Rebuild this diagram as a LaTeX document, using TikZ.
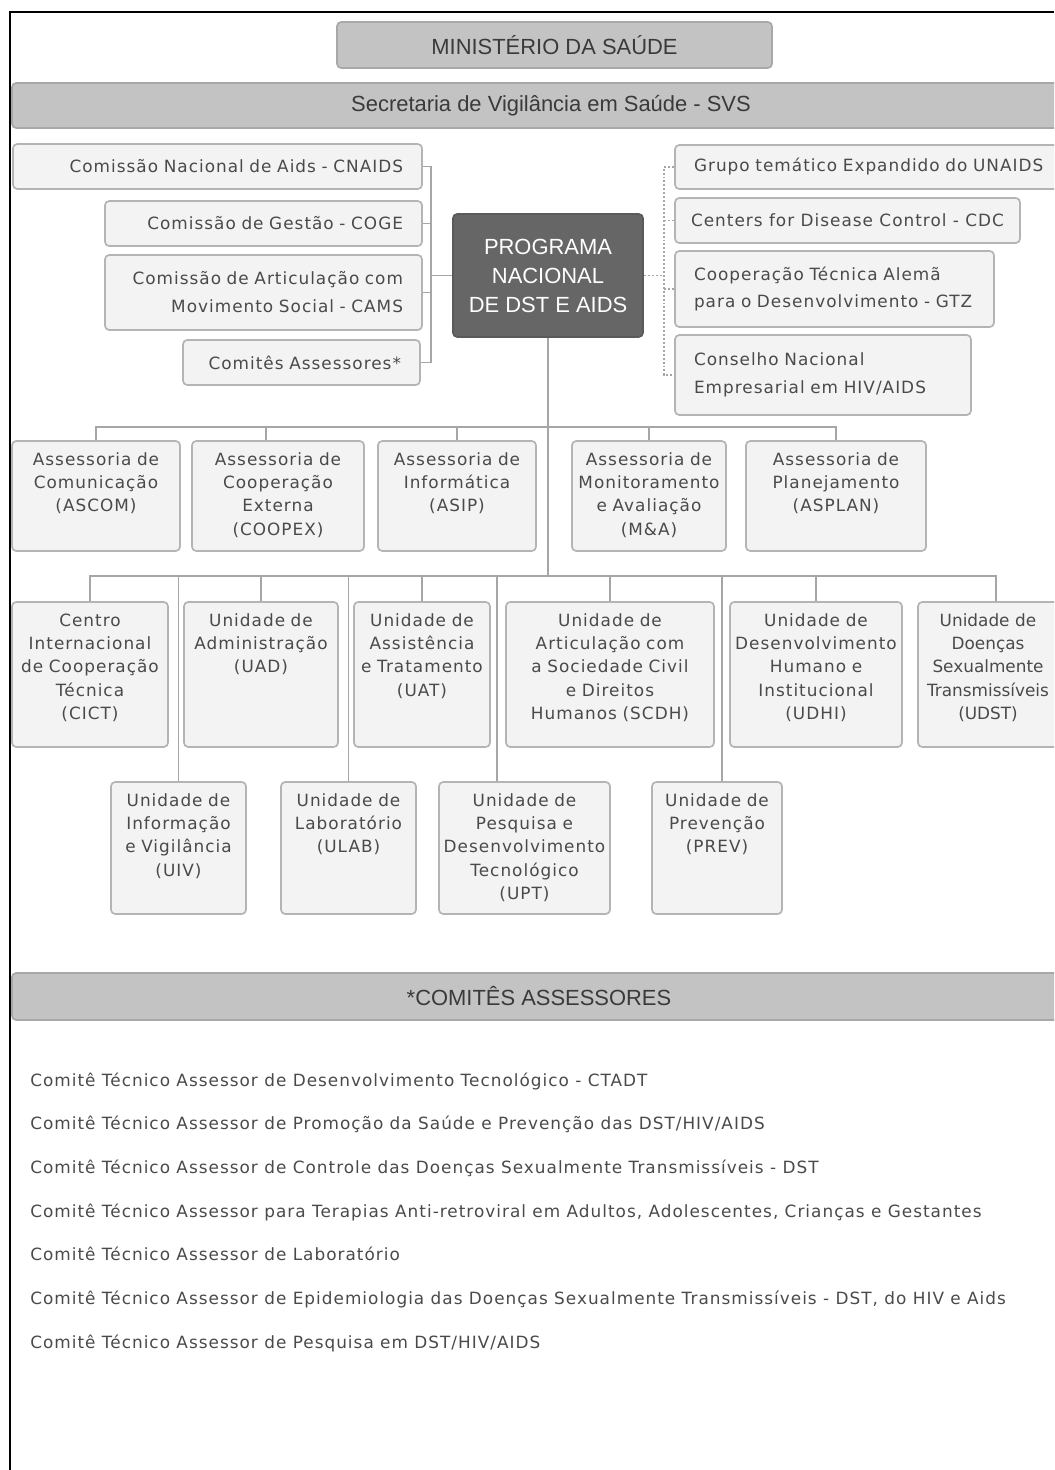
\documentclass[tikz,border=0pt]{standalone}
\usepackage{fontspec}
\usetikzlibrary{calc}
\newfontfamily\unitfont[LetterSpace=6]{DejaVu Sans}
\newfontfamily\tightfont{DejaVu Sans}
\newfontfamily\headfont{Liberation Sans}
\newlength{\upx}\setlength{\upx}{0.025cm}
\definecolor{headfill}{HTML}{C3C3C3}
\definecolor{headline}{HTML}{A8A8A8}
\definecolor{headtext}{HTML}{3A3A3A}
\definecolor{boxfill}{HTML}{F3F3F3}
\definecolor{boxline}{HTML}{B4B4B4}
\definecolor{txtgray}{HTML}{4A4A4A}
\definecolor{progfill}{HTML}{666666}
\definecolor{progline}{HTML}{5A5A5A}
\definecolor{linegray}{HTML}{A6A6A6}
\tikzset{
  link/.style={draw=linegray, line width=1.4pt},
  dotlink/.style={link, dash pattern=on 1.4pt off 1.4pt},
  head/.style={draw=headline, fill=headfill, line width=1.2pt, rounded corners=3pt, inner sep=0pt, text=headtext, font={\headfont\fontsize{15.6}{18}\selectfont}},
  prog/.style={draw=progline, fill=progfill, line width=1.2pt, rounded corners=3pt, inner sep=0pt, text=white, align=center, font={\headfont\fontsize{15.6}{20.6}\selectfont}},
  sidebox/.style={draw=boxline, fill=boxfill, line width=1.2pt, rounded corners=3pt, inner xsep=19\upx, inner ysep=0pt, text=txtgray, font={\unitfont\fontsize{12}{19.9}\selectfont}},
  unitbox/.style={draw=boxline, fill=boxfill, line width=1.2pt, rounded corners=3pt, inner sep=0pt, align=center, text=txtgray, text height=24\upx, font={\unitfont\fontsize{12}{16.6}\selectfont}},
  rowA/.style={unitbox, text depth=86\upx},
  rowB/.style={unitbox, text depth=121\upx},
  rowC/.style={unitbox, text depth=108\upx},
  listitem/.style={anchor=base west, inner sep=0pt, text=txtgray, font={\unitfont\fontsize{12}{14}\selectfont}},
}
\begin{document}
\begin{tikzpicture}[x=0.025cm,y=-0.025cm]
        \useasboundingbox (0,0) rectangle (1054,1470);
        \clip (0,0) rectangle (1054,1470);
        \draw[line width=1.5pt] (10,1470) -- (10,12) -- (1054,12);
        % headers
        \node[head, minimum width=435\upx, minimum height=46\upx] (min) at (554.5,45) {MINISTÉRIO DA SAÚDE};
        \node[head, minimum width=1078\upx, minimum height=45\upx] (svs) at (551,105.5) {Secretaria de Vigilância em Saúde - SVS};
        \node[prog, minimum width=190\upx, minimum height=123\upx] (prog) at (548,275.5) {PROGRAMA\\NACIONAL\\DE DST E AIDS};
        % left side
        \node[sidebox, align=right, text width=371\upx, minimum height=45\upx] (cnaids) at (217.5,166.5) {Comissão Nacional de Aids - CNAIDS};
        \node[sidebox, align=right, text width=279\upx, minimum height=45\upx] (coge) at (263.5,223.5) {Comissão de Gestão - COGE};
        \node[sidebox, align=right, text width=279\upx, minimum height=75\upx] (cams) at (263.5,292.5) {Comissão de Articulação com\\Movimento Social - CAMS};
        \node[sidebox, align=right, text width=199\upx, minimum height=45\upx] (comites) at (301.5,362.5) {Comitês Assessores*};
        % right side
        \node[sidebox, align=left, text width=362\upx, minimum height=44\upx] (unaids) at (875,167) {Grupo temático Expandido do UNAIDS};
        \node[sidebox, inner xsep=8\upx, minimum width=345\upx, minimum height=45\upx] (cdc) at (847.5,220.5) {Centers for Disease Control - CDC};
        \node[sidebox, align=left, text width=281\upx, minimum height=76\upx] (gtz) at (834.5,289) {Cooperação Técnica Alemã\\para o Desenvolvimento - GTZ};
        \node[sidebox, align=left, text width=258\upx, minimum height=80\upx] (conselho) at (823,375) {Conselho Nacional\\Empresarial em HIV/AIDS};
        % assessorias
        \node[rowA, text width=168\upx] (ascom) at (96,496) {Assessoria de\\Comunicação\\(ASCOM)};
        \node[rowA, text width=172\upx] (coopex) at (278,496) {Assessoria de\\Cooperação\\Externa\\(COOPEX)};
        \node[rowA, text width=158\upx] (asip) at (457,496) {Assessoria de\\Informática\\(ASIP)};
        \node[rowA, text width=154\upx] (mea) at (649,496) {Assessoria de\\Monitoramento\\e Avaliação\\(M\&A)};
        \node[rowA, text width=180\upx] (asplan) at (836,496) {Assessoria de\\Planejamento\\(ASPLAN)};
        % unidades
        \node[rowB, text width=156\upx] (cict) at (90,674.5) {Centro\\Internacional\\de Cooperação\\Técnica\\(CICT)};
        \node[rowB, text width=154\upx] (uad) at (261,674.5) {Unidade de\\Administração\\(UAD)};
        \node[rowB, text width=136\upx] (uat) at (422,674.5) {Unidade de\\Assistência\\e Tratamento\\(UAT)};
        \node[rowB, text width=208\upx] (scdh) at (610,674.5) {Unidade de\\Articulação com\\a Sociedade Civil\\e Direitos\\Humanos (SCDH)};
        \node[rowB, text width=172\upx] (udhi) at (816,674.5) {Unidade de\\Desenvolvimento\\Humano e\\Institucional\\(UDHI)};
        \node[rowB, text width=140\upx, font={\tightfont\fontsize{12}{16.6}\selectfont}] (udst) at (988,674.5) {Unidade de\\Doenças\\Sexualmente\\Transmissíveis\\(UDST)};
        \node[rowC, text width=135\upx] (uiv) at (178.5,848) {Unidade de\\Informação\\e Vigilância\\(UIV)};
        \node[rowC, text width=135\upx] (ulab) at (348.5,848) {Unidade de\\Laboratório\\(ULAB)};
        \node[rowC, text width=171\upx] (upt) at (524.5,848) {Unidade de\\Pesquisa e\\Desenvolvimento\\Tecnológico\\(UPT)};
        \node[rowC, text width=130\upx] (prev) at (717,848) {Unidade de\\Prevenção\\(PREV)};
        % connectors
        \coordinate (lb) at (431,0);
        \coordinate (rb) at (664,0);
        \coordinate (bus1) at (548,427);
        \coordinate (bus2) at (548,576);
        \draw[link] (cnaids.east) -- (cnaids.east -| lb) -- (comites.east -| lb) -- (comites.east);
        \draw[link] (coge.east) -- (coge.east -| lb);
        \draw[link] (cams.east) -- (cams.east -| lb);
        \draw[link] (prog.west) -- (prog.west -| lb);
        \draw[dotlink] (unaids.west) -- (unaids.west -| rb) -- (conselho.west -| rb) -- (conselho.west);
        \draw[dotlink] (cdc.west) -- (cdc.west -| rb);
        \draw[dotlink] (gtz.west) -- (gtz.west -| rb);
        \draw[dotlink] (prog.east) -- (prog.east -| rb);
        \draw[link] (prog.south) -- (bus2);
        \draw[link] (ascom.north) |- (bus1) -| (asplan.north);
        \foreach \n in {asip,mea}
            \draw[link] (\n.north) -- (\n.north |- bus1);
        \draw[link] ($(coopex.north)+(-12,0)$) -- ($(coopex.north |- bus1)+(-12,0)$);
        \draw[link] (cict.north) |- (bus2) -| ($(udst.north)+(8,0)$);
        \foreach \n in {uad,uat,scdh,udhi,uiv,ulab}
            \draw[link] (\n.north) -- (\n.north |- bus2);
        \draw[link] ($(upt.north)+(-27.5,0)$) -- ($(upt.north |- bus2)+(-27.5,0)$);
        \draw[link] ($(prev.north)+(5,0)$) -- ($(prev.north |- bus2)+(5,0)$);
        % comites assessores
        \node[head, minimum width=1054\upx, minimum height=47\upx] (comhead) at (539,996.5) {*COMITÊS ASSESSORES};
        \foreach \t [count=\i] in {
            {Comitê Técnico Assessor de Desenvolvimento Tecnológico - CTADT},
            {Comitê Técnico Assessor de Promoção da Saúde e Prevenção das DST/HIV/AIDS},
            {Comitê Técnico Assessor de Controle das Doenças Sexualmente Transmissíveis - DST},
            {Comitê Técnico Assessor para Terapias Anti-retroviral em Adultos, Adolescentes, Crianças e Gestantes},
            {Comitê Técnico Assessor de Laboratório},
            {Comitê Técnico Assessor de Epidemiologia das Doenças Sexualmente Transmissíveis - DST, do HIV e Aids},
            {Comitê Técnico Assessor de Pesquisa em DST/HIV/AIDS}}
            \node[listitem] (ct\i) at (30,{1086+43.7*(\i-1)}) {\t};
    \end{tikzpicture}
\end{document}
